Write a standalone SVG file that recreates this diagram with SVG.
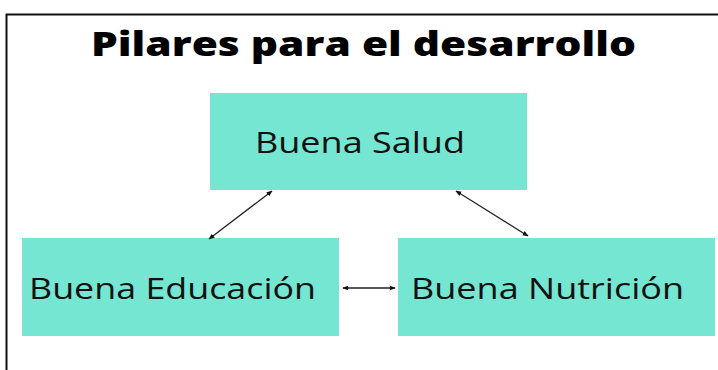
<svg xmlns="http://www.w3.org/2000/svg" width="718" height="370" viewBox="0 0 718 370">
<defs>
<style>
.box{fill:#75e6d2}
.lbl{font-family:"Open Sans","Noto Sans",sans-serif;font-size:29px;fill:#111}
.title{font-family:"Open Sans","Noto Sans",sans-serif;font-size:34px;font-weight:800;fill:#000}
.con{stroke:#222;stroke-width:1.3;fill:none;marker-start:url(#ah);marker-end:url(#ah)}
</style>
<marker id="ah" viewBox="0 0 10 10" refX="9" refY="5" markerWidth="6" markerHeight="6" orient="auto-start-reverse" markerUnits="userSpaceOnUse">
<path d="M0,1 L10,5 L0,9 z" fill="#111"/>
</marker>
</defs>
<rect width="718" height="370" fill="#fff"/>
<path d="M6.5,370 V14.5 H718" stroke="#111" stroke-width="2" fill="none"/>
<text class="title" x="91" y="56" textLength="545" lengthAdjust="spacingAndGlyphs">Pilares para el desarrollo</text>
<g id="salud">
<rect class="box" x="210" y="93" width="317" height="97"/>
<text class="lbl" x="255" y="153" textLength="210" lengthAdjust="spacingAndGlyphs">Buena Salud</text>
</g>
<g id="educacion">
<rect class="box" x="22" y="238" width="317" height="98"/>
<text class="lbl" x="29" y="299" textLength="287" lengthAdjust="spacingAndGlyphs">Buena Educación</text>
</g>
<g id="nutricion">
<rect class="box" x="398" y="238" width="317" height="98"/>
<text class="lbl" x="411" y="299" textLength="273" lengthAdjust="spacingAndGlyphs">Buena Nutrición</text>
</g>
<g id="connectors">
<line class="con" x1="272" y1="191" x2="209" y2="239"/>
<line class="con" x1="456" y1="191" x2="528" y2="236"/>
<line class="con" x1="343" y1="288" x2="395" y2="288"/>
</g>
</svg>
